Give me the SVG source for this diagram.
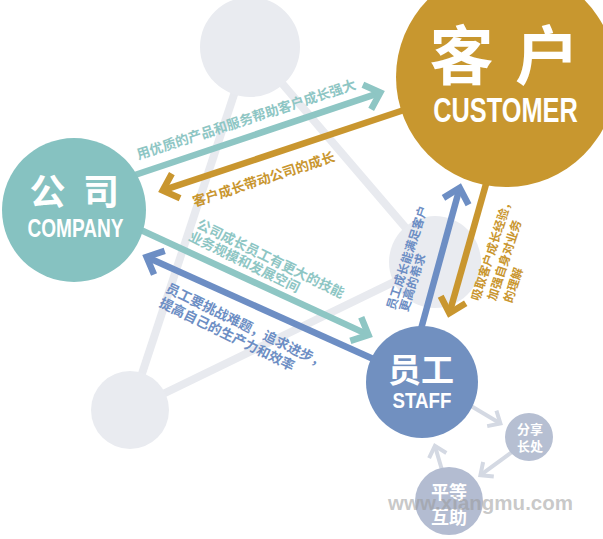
<svg xmlns="http://www.w3.org/2000/svg" width="603" height="539" viewBox="0 0 603 539">
<style>
.bgl{stroke:#e8eaef;stroke-width:8;fill:none}
.bgc{fill:#e9ebf0}
.ar{fill:none;stroke-width:6.5}
.t{stroke:#8ec6c4}
.o{stroke:#c9962f}
.b{stroke:#6d8ec4}
.gr{fill:none;stroke:#d4d9e3;stroke-width:4}
.lbl{font-family:"Noto Sans CJK SC","Noto Sans",sans-serif;font-weight:700}
.cjk{font-family:"Noto Sans CJK SC","Noto Sans",sans-serif;font-weight:700;fill:#fff}
.lat{font-family:"Liberation Sans",Arial,sans-serif;font-weight:700;fill:#fff}
</style>
<defs>
<marker id="hT" markerUnits="userSpaceOnUse" orient="auto" markerWidth="40" markerHeight="40" viewBox="-20 -20 40 40" refX="0" refY="0" overflow="visible"><path d="M-14,-13 L0,0 L-14,13" fill="none" stroke="#8ec6c4" stroke-width="6.5"/></marker>
<marker id="hO" markerUnits="userSpaceOnUse" orient="auto" markerWidth="40" markerHeight="40" viewBox="-20 -20 40 40" refX="0" refY="0" overflow="visible"><path d="M-14,-13 L0,0 L-14,13" fill="none" stroke="#c9962f" stroke-width="6.5"/></marker>
<marker id="hB" markerUnits="userSpaceOnUse" orient="auto" markerWidth="40" markerHeight="40" viewBox="-20 -20 40 40" refX="0" refY="0" overflow="visible"><path d="M-14,-13 L0,0 L-14,13" fill="none" stroke="#6d8ec4" stroke-width="6.5"/></marker>
<marker id="hG" markerUnits="userSpaceOnUse" orient="auto" markerWidth="30" markerHeight="30" viewBox="-15 -15 30 30" refX="0" refY="0" overflow="visible"><path d="M-10,-9 L0,0 L-10,9" fill="none" stroke="#d4d9e3" stroke-width="4"/></marker>
</defs>
<rect width="603" height="539" fill="#fff"/>
<g id="background">
<line class="bgl" x1="250" y1="46" x2="130" y2="410"/>
<line class="bgl" x1="250" y1="46" x2="435" y2="262"/>
<line class="bgl" x1="130" y1="410" x2="435" y2="262"/>
<circle class="bgc" cx="250" cy="47" r="50"/>
<circle class="bgc" cx="435" cy="262" r="46"/>
<circle class="bgc" cx="130" cy="410" r="39"/>
</g>
<g id="connectors">
<line class="ar t" x1="120" y1="180" x2="380.3" y2="92.6" marker-end="url(#hT)"/>
<line class="ar o" x1="410" y1="108" x2="162.7" y2="190.4" marker-end="url(#hO)"/>
<line class="ar t" x1="130" y1="225" x2="368.5" y2="334.9" marker-end="url(#hT)"/>
<line class="ar b" x1="380" y1="362" x2="146.6" y2="257" marker-end="url(#hB)"/>
<line class="ar b" x1="418" y1="340" x2="459.7" y2="187.8" marker-end="url(#hB)"/>
<line class="ar o" x1="490" y1="170" x2="449.4" y2="313.2" marker-end="url(#hO)"/>
<line class="gr" x1="466" y1="403" x2="500.4" y2="423.5" marker-end="url(#hG)"/>
<line class="gr" x1="512" y1="452" x2="480.4" y2="475.2" marker-end="url(#hG)"/>
<line class="gr" x1="442" y1="470" x2="434.9" y2="445.9" marker-end="url(#hG)"/>
</g>
<g id="node-customer">
<circle cx="506" cy="77" r="110" fill="#c8972f"/>
<text class="cjk" font-size="64" y="79" text-anchor="middle"><tspan x="461.5">客</tspan><tspan x="547">户</tspan></text>
<text class="lat" font-size="35" text-anchor="middle" transform="translate(505.5,122) scale(0.725,1)">CUSTOMER</text>
</g>
<g id="node-company">
<circle cx="74" cy="210" r="72" fill="#86c2c1"/>
<text class="cjk" font-size="36" y="205" text-anchor="middle"><tspan x="47.5">公</tspan><tspan x="101">司</tspan></text>
<text class="lat" font-size="26.5" text-anchor="middle" transform="translate(75.5,237) scale(0.72,1)">COMPANY</text>
</g>
<g id="node-staff">
<circle cx="422" cy="382" r="56" fill="#7190c0"/>
<text class="cjk" font-size="33" x="421" y="382" text-anchor="middle">员工</text>
<text class="lat" font-size="22" text-anchor="middle" transform="translate(422,408) scale(0.85,1)">STAFF</text>
</g>
<g id="node-share">
<circle cx="529" cy="437" r="24" fill="#b6bfd2"/>
<text class="cjk" font-size="13" x="530" y="434" text-anchor="middle">分享</text>
<text class="cjk" font-size="13" x="530" y="451" text-anchor="middle">长处</text>
</g>
<g id="node-equal">
<circle cx="449" cy="501" r="34" fill="#b3bcd1"/>
<text class="cjk" font-size="18" x="449" y="499" text-anchor="middle">平等</text>
<text class="cjk" font-size="18" x="449" y="524" text-anchor="middle">互助</text>
</g>
<g id="connector-labels" class="lbl">
<text font-size="13.5" fill="#8ec6c4" transform="translate(138.5,159.6) rotate(-18)">用优质的产品和服务帮助客户成长强大</text>
<text font-size="13.5" fill="#c9962f" transform="translate(194.5,206.8) rotate(-18)">客户成长带动公司的成长</text>
<text font-size="13.5" fill="#8ec6c4" transform="translate(195.8,227.5) rotate(26)"><tspan x="0" y="0">公司成长员工有更大的技能</tspan><tspan x="-2" y="14.5">业务规模和发展空间</tspan></text>
<text font-size="13.5" fill="#6d8ec4" transform="translate(164.8,291.5) rotate(26)"><tspan x="0" y="0">员工要挑战难题，追求进步，</tspan><tspan x="0.5" y="16">提高自己的生产力和效率</tspan></text>
<text font-size="12" fill="#6d8ec4" transform="translate(394.4,310.4) rotate(-72)"><tspan x="0" y="0">员工成长能满足客户</tspan><tspan x="2" y="13">更高的希求</tspan></text>
<text font-size="12" fill="#c9962f" transform="translate(479.3,301.4) rotate(-72)"><tspan x="0" y="0">吸取客户成长经验，</tspan><tspan x="5" y="15.5">加强自身对业务</tspan><tspan x="8" y="31.5">的理解</tspan></text>
</g>
<text font-family="Liberation Sans,Arial,sans-serif" font-weight="700" font-size="20" x="388" y="510" textLength="185" lengthAdjust="spacingAndGlyphs" fill="#9a9a9a" fill-opacity="0.55">www.xiangmu.com</text>
</svg>
